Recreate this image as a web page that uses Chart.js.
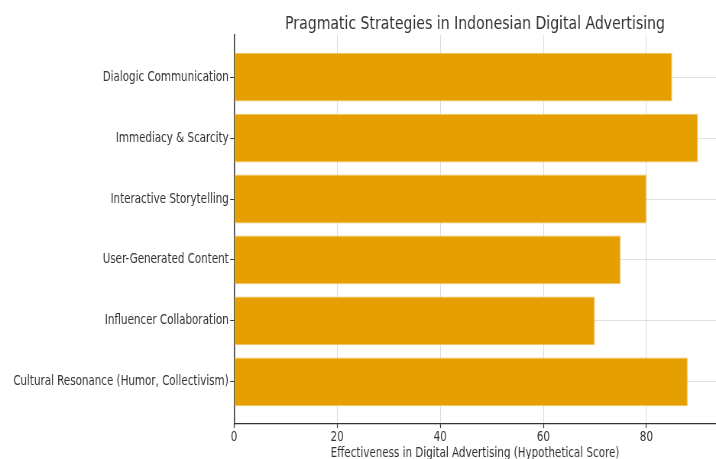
<!DOCTYPE html>
<html>
<head>
<meta charset="utf-8">
<script src="https://cdn.jsdelivr.net/npm/chart.js@4/dist/chart.umd.min.js"></script>
<style>
  html, body { margin: 0; padding: 0; background: #fff; overflow: hidden; }
  #wrap { width: 716px; height: 459px; overflow: hidden; }
  /* the figure is drawn wide and narrowed horizontally to its display width */
  #c { display: block; width: 716px !important; height: 459px !important; }
</style>
</head>
<body>
<div id="wrap"><canvas id="c"></canvas></div>
<script>
// Strategies listed bottom-to-top, as plotted on the vertical axis
const strategies = [
  "Cultural Resonance (Humor, Collectivism)",
  "Influencer Collaboration",
  "User-Generated Content",
  "Interactive Storytelling",
  "Immediacy & Scarcity",
  "Dialogic Communication"
];
const scores = [88, 70, 75, 80, 90, 85];
const scoreTicks = [0, 20, 40, 60, 80];

const SQUEEZE = 0.764;                 // horizontal narrowing of the figure
const W = Math.round(716 / SQUEEZE);   // drawing width before narrowing
const H = 459;

const canvas = document.getElementById('c');
canvas.width = W;
canvas.height = H;

const FONT = "'DejaVu Sans', 'Liberation Sans', sans-serif";
const INK = '#333333';
const GRID = 'rgba(175,175,175,0.45)';

const points = strategies.map((s, i) => ({ x: scores[i], y: i }));

// Center the chart title over the plotting area rather than the whole canvas
const titleOverPlot = {
  id: 'titleOverPlot',
  afterLayout(chart) {
    const t = chart.titleBlock;
    if (t) {
      t.left = chart.chartArea.left;
      t.right = chart.chartArea.right;
    }
  }
};

new Chart(canvas, {
  type: 'bar',
  plugins: [titleOverPlot],
  data: {
    datasets: [{
      data: points,
      backgroundColor: '#E69F00',
      borderColor: '#F0C46A',
      borderWidth: 1,
      borderSkipped: false,
      barPercentage: 0.8,
      categoryPercentage: 1.0
    }]
  },
  options: {
    indexAxis: 'y',
    responsive: false,
    maintainAspectRatio: false,
    devicePixelRatio: 1,
    animation: false,
    layout: { padding: 0 },
    plugins: {
      legend: { display: false },
      tooltip: { enabled: false },
      title: {
        display: true,
        text: 'Pragmatic Strategies in Indonesian Digital Advertising',
        color: INK,
        font: { family: FONT, size: 18.4, weight: 'normal' },
        padding: { top: 12.9, bottom: 0 }
      }
    },
    scales: {
      x: {
        type: 'linear',
        min: 0,
        max: 93.5,
        z: 1,
        afterBuildTicks: s => { s.ticks = scoreTicks.map(v => ({ value: v })); },
        afterFit: s => { s.height = 35; },
        border: { display: true, color: INK, width: 1.2 },
        grid: {
          color: GRID,
          lineWidth: 1.0,
          borderDash: [3, 3],
          drawTicks: true,
          tickLength: 4,
          tickColor: INK,
          tickWidth: 1.2
        },
        ticks: {
          color: INK,
          padding: 1,
          maxRotation: 0,
          font: { family: FONT, size: 13.5 }
        },
        title: {
          display: true,
          text: 'Effectiveness in Digital Advertising (Hypothetical Score)',
          color: INK,
          font: { family: FONT, size: 13.5 },
          padding: { top: 0, bottom: -2.5 }
        }
      },
      y: {
        type: 'linear',
        min: -0.69,
        max: 5.69,
        offset: false,
        z: 1,
        afterBuildTicks: s => { s.ticks = strategies.map((_, i) => ({ value: i })); },
        afterFit: s => { s.width = 234 / SQUEEZE; },
        border: { display: true, color: INK, width: 1.5 },
        grid: {
          offset: false,
          color: GRID,
          lineWidth: 0.8,
          borderDash: [3, 3],
          drawTicks: true,
          tickLength: 5,
          tickColor: INK,
          tickWidth: 1
        },
        ticks: {
          color: INK,
          padding: 2,
          font: { family: FONT, size: 13.5 },
          callback: v => strategies[v]
        }
      }
    }
  }
});
</script>
</body>
</html>
